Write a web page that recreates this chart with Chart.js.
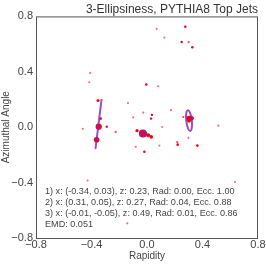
<!DOCTYPE html>
<html>
<head>
<meta charset="utf-8">
<script src="https://cdn.jsdelivr.net/npm/chart.js@4/dist/chart.umd.min.js"></script>
<style>
    html, body { margin: 0; padding: 0; background: #fff; }
    #wrap { width: 266px; height: 266px; }
</style>
</head>
<body>
<div id="wrap"><canvas id="jetChart"></canvas></div>
<script>
    // Particles: rapidity, azimuth and pT fraction
    const partRap = [0.07, 0.276, 0.125, 0.25, 0.30, 0.327, -0.409, -0.416, -0.005, 0.081,
        -0.353, -0.137, 0.173, -0.027, 0.036, -0.334, -0.099, 0.029, 0.262, 0.303,
        0.322, 0.303, 0.514, -0.348, -0.29, -0.463, -0.226, -0.072, -0.03, 0.009,
        0.031, 0.11, -0.363, -0.081, -0.019, 0.089, 0.218, 0.221, 0.298, 0.363,
        -0.428, 0.634, -0.142];
    const partPhi = [0.71, 0.726, 0.647, 0.615, 0.615, 0.577, 0.392, 0.325, 0.309, 0.296,
        0.193, 0.174, 0.123, 0.105, 0.089, 0.062, 0.071, 0.062, 0.073, 0.064,
        0.064, 0.048, 0.011, 0.004, 0.004, -0.012, -0.034, -0.025, -0.045, -0.058,
        -0.07, 0.001, -0.091, -0.142, -0.178, -0.133, -0.107, -0.126, -0.077, -0.133,
        -0.385, -0.396, -0.694];
    const partPt = [0.002, 0.006, 0.002, 0.005, 0.003, 0.006, 0.002, 0.002, 0.006, 0.002,
        0.015, 0.002, 0.002, 0.002, 0.005, 0.008, 0.002, 0.005, 0.003, 0.10,
        0.06, 0.05, 0.002, 0.16, 0.005, 0.002, 0.003, 0.02, 0.30, 0.04,
        0.03, 0.002, 0.12, 0.002, 0.006, 0.002, 0.003, 0.008, 0.002, 0.008,
        0.002, 0.002, 0.002];

    // Fitted ellipses (centre, semi-axes, orientation of major axis in degrees)
    const ellX = [-0.349, 0.303, -0.027];
    const ellY = [0.025, 0.048, -0.045];
    const ellA = [0.178, 0.075, 0.024];
    const ellB = [0.0, 0.02, 0.016];
    const ellAngle = [83, 96.5, -20];
    const ellLabels = [
        '1) x: (-0.34, 0.03), z: 0.23, Rad: 0.00, Ecc. 1.00',
        '2) x: (0.31, 0.05), z: 0.27, Rad: 0.04, Ecc. 0.88',
        '3) x: (-0.01, -0.05), z: 0.49, Rad: 0.01, Ecc. 0.86',
        'EMD: 0.051'
    ];
    const axisTicks = [-0.8, -0.4, 0.0, 0.4, 0.8];

    const fmt = v => v.toFixed(1).replace('-', '\u2212');
    const FONT = "'Liberation Sans', Arial, sans-serif";

    const ellipsePlugin = {
        id: 'ellipses',
        afterDatasetsDraw(chart) {
            const { ctx, chartArea, scales: { x, y } } = chart;
            const ppu = x.getPixelForValue(1) - x.getPixelForValue(0);
            ctx.save();
            ctx.beginPath();
            ctx.rect(chartArea.left, chartArea.top, chartArea.width, chartArea.height);
            ctx.clip();
            ctx.strokeStyle = 'rgba(135, 35, 165, 0.8)';
            ctx.lineWidth = 2;
            ellX.forEach((cx, i) => {
                ctx.beginPath();
                ctx.ellipse(x.getPixelForValue(cx), y.getPixelForValue(ellY[i]),
                    ellA[i] * ppu, Math.max(ellB[i] * ppu, 0.01), -ellAngle[i] * Math.PI / 180, 0, 2 * Math.PI);
                ctx.stroke();
            });
            ctx.restore();

            // annotation text
            ctx.save();
            ctx.font = '9.1px ' + FONT;
            ctx.fillStyle = '#444';
            ctx.textBaseline = 'middle';
            ellLabels.forEach((t, i) => {
                ctx.fillText(t, chartArea.left + 9, chartArea.top + 175 + i * 11);
            });
            ctx.restore();
        },
        afterDraw(chart) {
            const { ctx, chartArea } = chart;
            ctx.save();
            ctx.strokeStyle = '#555';
            ctx.lineWidth = 1;
            ctx.strokeRect(chartArea.left + 0.5, chartArea.top + 0.5, chartArea.width - 1, chartArea.height);
            ctx.restore();
        }
    };

    const ctx = document.getElementById('jetChart').getContext('2d');
    new Chart(ctx, {
        type: 'scatter',
        data: {
            datasets: [{
                data: partRap.map((r, i) => ({ x: r, y: partPhi[i] })),
                pointRadius: c => 0.8 + 5.8 * Math.sqrt(partPt[c.dataIndex]),
                backgroundColor: c => {
                    const a = Math.min(1, 0.3 + 0.7 * partPt[c.dataIndex] / 0.005);
                    return `rgba(245, 0, 20, ${a})`;
                },
                borderWidth: 0
            }]
        },
        plugins: [ellipsePlugin],
        options: {
            responsive: true,
            maintainAspectRatio: false,
            animation: false,
            layout: { padding: { left: 0, right: 8, top: 0, bottom: 0 } },
            plugins: {
                legend: { display: false },
                tooltip: { enabled: false },
                title: {
                    display: true,
                    text: '3-Ellipsiness, PYTHIA8 Top Jets',
                    align: 'end',
                    color: '#333',
                    font: { family: FONT, size: 12, weight: 'normal' },
                    padding: { top: 2, bottom: 0 }
                }
            },
            scales: {
                x: {
                    type: 'linear',
                    min: -0.8,
                    max: 0.8,
                    afterBuildTicks: s => { s.ticks = axisTicks.map(v => ({ value: v })); },
                    afterFit: s => { s.height = 28; },
                    grid: { display: false, drawTicks: false },
                    border: { display: false },
                    ticks: {
                        padding: 0,
                        maxRotation: 0,
                        color: '#444',
                        font: { family: FONT, size: 11 },
                        callback: v => fmt(v)
                    },
                    title: {
                        display: true,
                        text: 'Rapidity',
                        color: '#444',
                        font: { family: FONT, size: 10 },
                        padding: { top: 0, bottom: 4 }
                    }
                },
                y: {
                    type: 'linear',
                    min: -0.8,
                    max: 0.8,
                    afterBuildTicks: s => { s.ticks = axisTicks.map(v => ({ value: v })); },
                    afterFit: s => { s.width = 36; },
                    grid: { display: false, drawTicks: false },
                    border: { display: false },
                    ticks: {
                        padding: 3,
                        color: '#444',
                        font: { family: FONT, size: 11 },
                        callback: v => fmt(v)
                    },
                    title: {
                        display: true,
                        text: 'Azimuthal Angle',
                        color: '#444',
                        font: { family: FONT, size: 10 },
                        padding: { top: 0, bottom: 0 }
                    }
                }
            }
        }
    });
</script>
</body>
</html>
